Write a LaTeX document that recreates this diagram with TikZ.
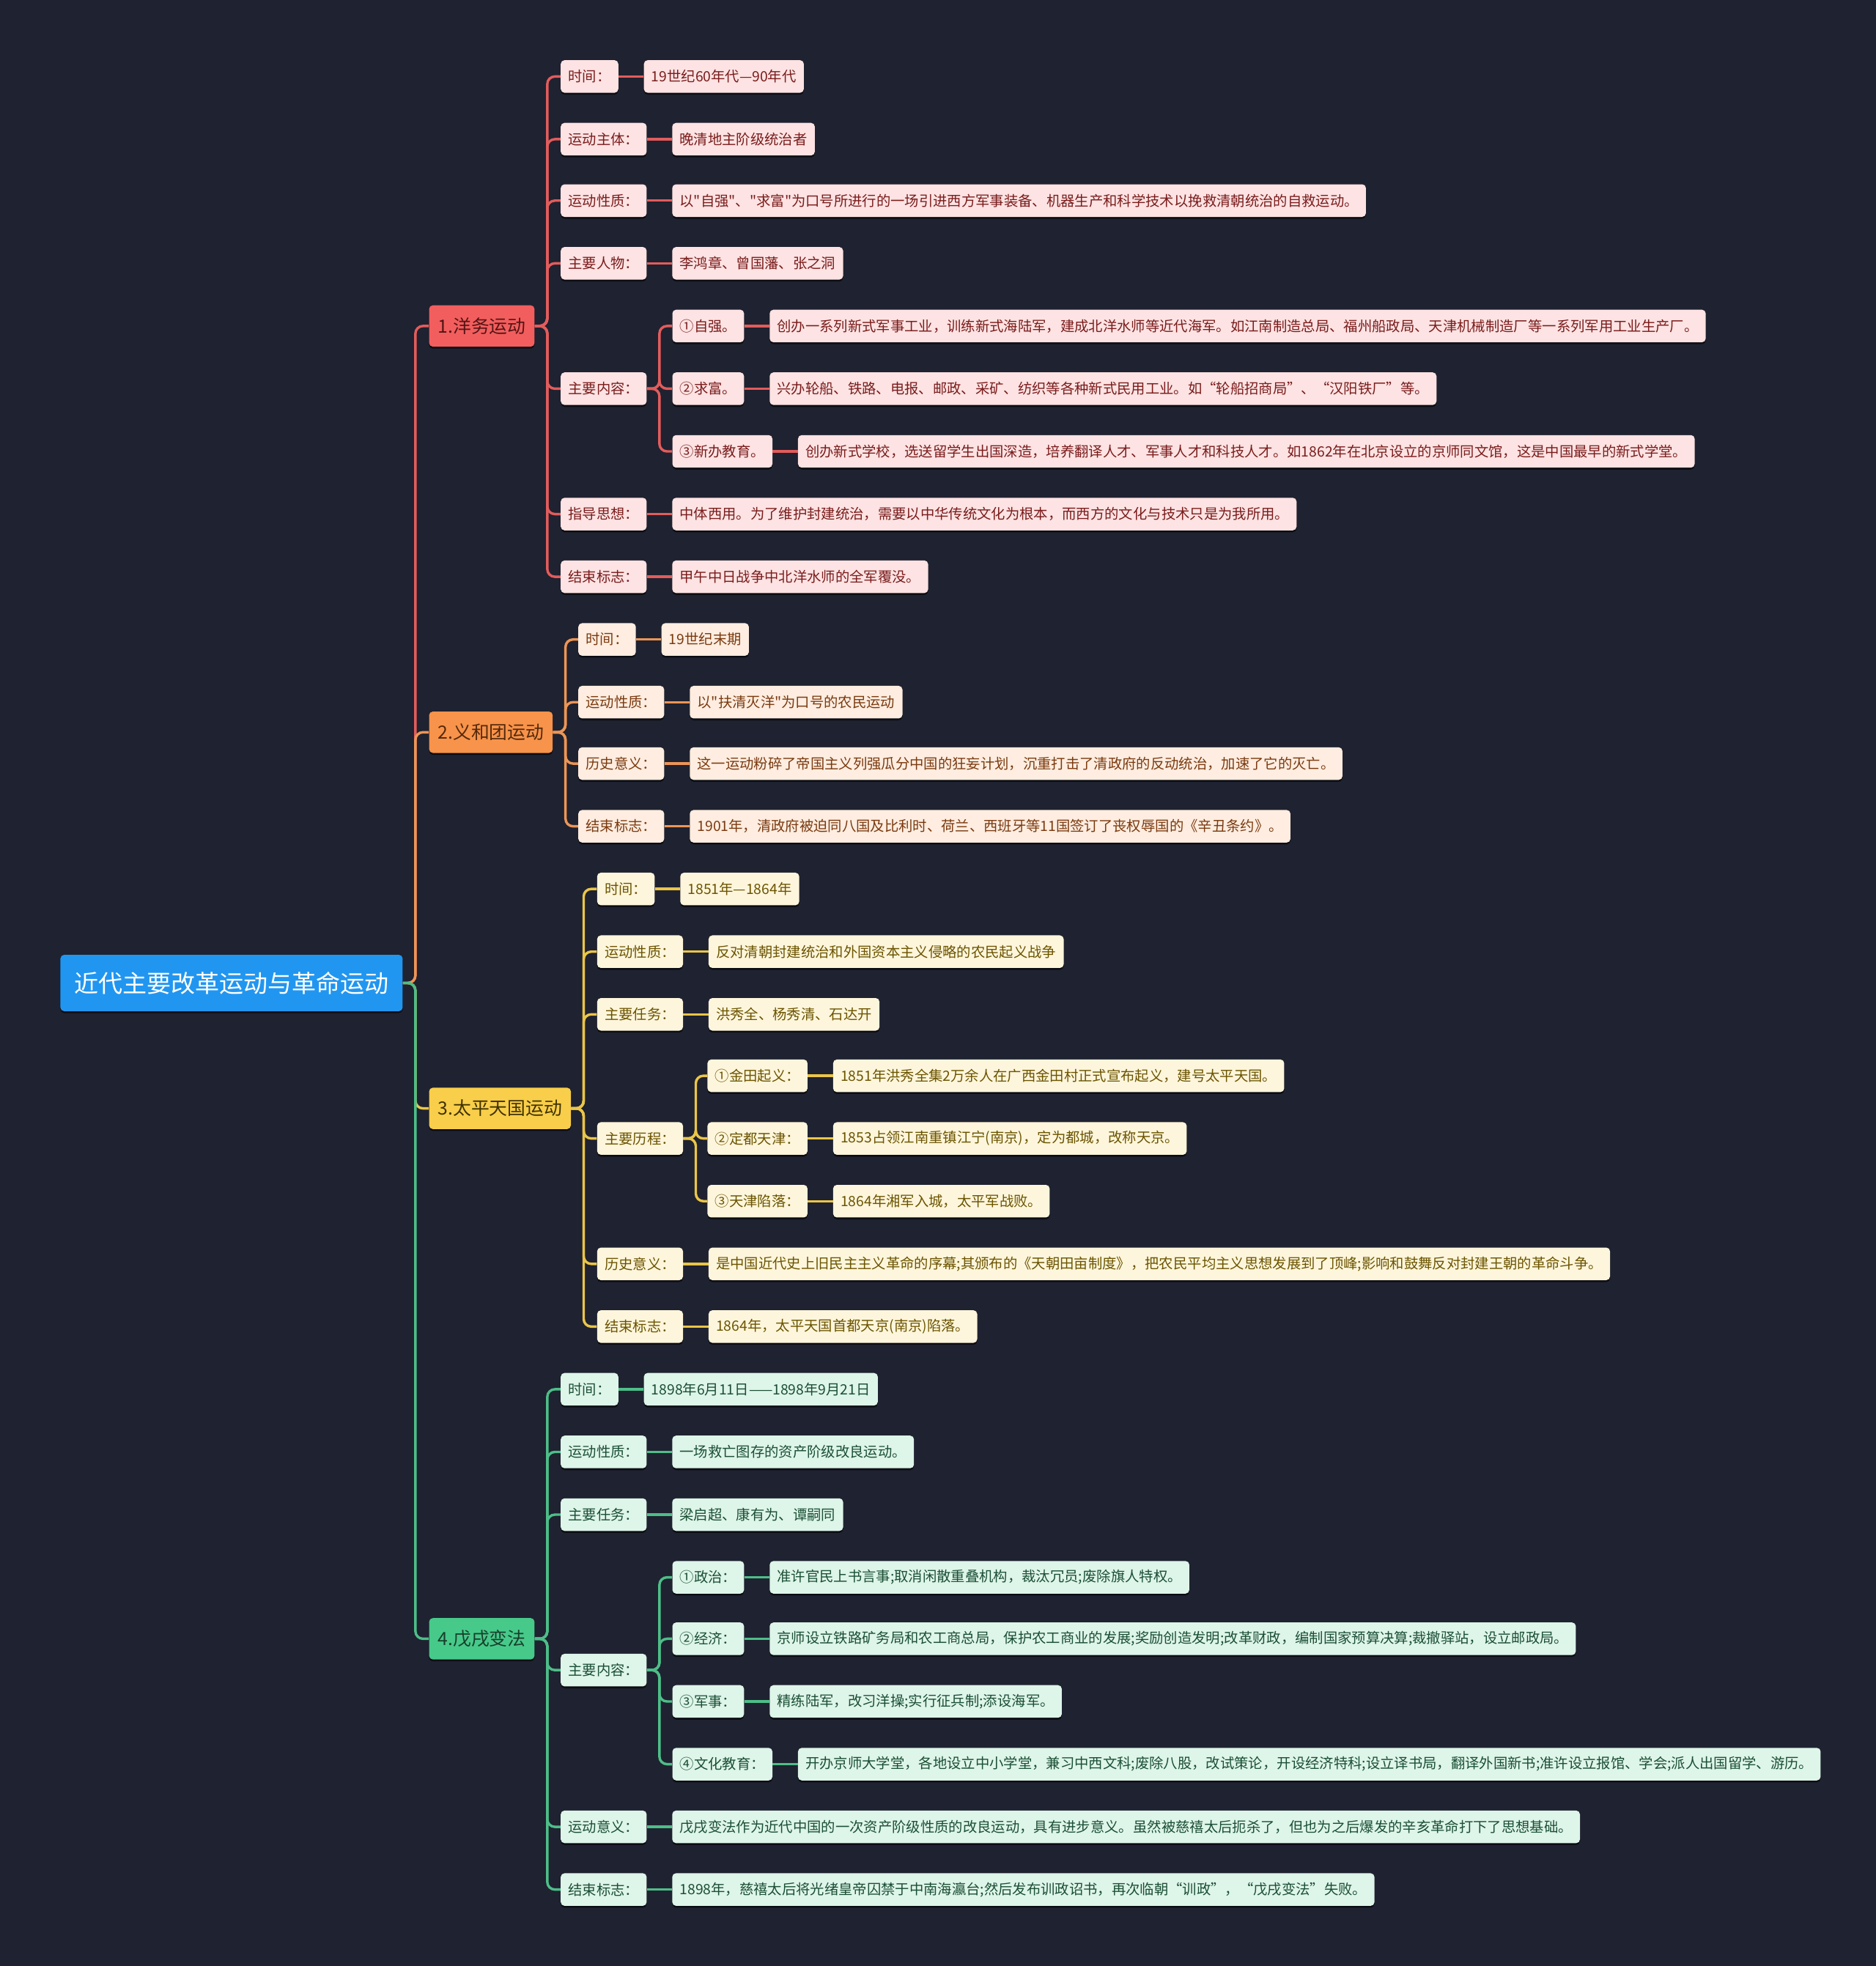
\documentclass[tikz,border=0pt]{standalone}
\usepackage{fontspec}
\setmainfont{Noto Sans CJK SC}[Ligatures=TeXOff]
\usepackage{tikz}
\usetikzlibrary{positioning,shadows}

\definecolor{bgcol}{HTML}{1F2230}
\definecolor{rootblue}{HTML}{2196F0}
\definecolor{redfill}{HTML}{F25E5E}
\definecolor{redpale}{HTML}{FDE3E3}
\definecolor{redtext}{HTML}{7A1C1C}
\definecolor{redline}{HTML}{E25C5C}
\definecolor{orafill}{HTML}{F7934A}
\definecolor{orapale}{HTML}{FEEDE0}
\definecolor{oratext}{HTML}{7A3A10}
\definecolor{oraline}{HTML}{EC9556}
\definecolor{yelfill}{HTML}{F8CE4A}
\definecolor{yelpale}{HTML}{FEF6DC}
\definecolor{yeltext}{HTML}{6B5400}
\definecolor{yelline}{HTML}{EAC548}
\definecolor{grnfill}{HTML}{47C98A}
\definecolor{grnpale}{HTML}{DEF5E9}
\definecolor{grntext}{HTML}{1B4F35}
\definecolor{grnline}{HTML}{4DBE88}

\tikzset{
  box/.style={rounded corners=3pt, anchor=west,
    drop shadow={shadow xshift=0pt, shadow yshift=-1.5pt, fill=black, opacity=0.6}},
  rootbox/.style={box, fill=rootblue, text=white, font=\fontsize{19.3}{22}\selectfont,
    minimum height=45pt, inner xsep=11pt},
  secbox/.style={box, font=\fontsize{14.5}{17}\selectfont, minimum height=33pt, inner xsep=7pt},
  leaf/.style={box, font=\fontsize{11.3}{13}\selectfont, minimum height=26pt, inner xsep=6pt},
  redleaf/.style={leaf, fill=redpale, text=redtext},
  oraleaf/.style={leaf, fill=orapale, text=oratext},
  yelleaf/.style={leaf, fill=yelpale, text=yeltext},
  grnleaf/.style={leaf, fill=grnpale, text=grntext},
  link/.style={line width=2pt, rounded corners=6pt},
}

\begin{document}
\begin{tikzpicture}[x=1pt, y=-1pt, node distance=20pt]
        \fill[bgcol] (0,0) rectangle (1496,1568);

        % root and the four movements
        \node[rootbox] (root) at (48,784) {近代主要改革运动与革命运动};
        \node[secbox, fill=redfill, text=redtext!70!black] (yangwu) at (342,260) {1.洋务运动};
        \node[secbox, fill=orafill, text=oratext!70!black] (yihe) at (342,584) {2.义和团运动};
        \node[secbox, fill=yelfill, text=yeltext!60!black] (taiping) at (342,884) {3.太平天国运动};
        \node[secbox, fill=grnfill, text=grntext!80!black] (wuxu) at (342,1307) {4.戊戌变法};

        \draw[link, redline] (root.east) -- ++(10,0) |- (yangwu.west);
        \draw[link, oraline] (root.east) -- ++(10,0) |- (yihe.west);
        \draw[link, yelline] (root.east) -- ++(10,0) |- (taiping.west);
        \draw[link, grnline] (root.east) -- ++(10,0) |- (wuxu.west);

        % 1. yangwu
        \node[redleaf] (yw1) at (447,61) {时间：};
        \node[redleaf] (yw2) at (447,111) {运动主体：};
        \node[redleaf] (yw3) at (447,160) {运动性质：};
        \node[redleaf] (yw4) at (447,210) {主要人物：};
        \node[redleaf] (yw5) at (447,310) {主要内容：};
        \node[redleaf] (yw6) at (447,410) {指导思想：};
        \node[redleaf] (yw7) at (447,460) {结束标志：};
        \node[redleaf, right=of yw1] (ywv1) {19世纪60年代—90年代};
        \node[redleaf, right=of yw2] (ywv2) {晚清地主阶级统治者};
        \node[redleaf, right=of yw3] (ywv3) {以"自强"、"求富"为口号所进行的一场引进西方军事装备、机器生产和科学技术以挽救清朝统治的自救运动。};
        \node[redleaf, right=of yw4] (ywv4) {李鸿章、曾国藩、张之洞};
        \node[redleaf, right=of yw6] (ywv6) {中体西用。为了维护封建统治，需要以中华传统文化为根本，而西方的文化与技术只是为我所用。};
        \node[redleaf, right=of yw7] (ywv7) {甲午中日战争中北洋水师的全军覆没。};
        \node[redleaf] (ywz1) at (536,260) {①自强。};
        \node[redleaf] (ywz2) at (536,310) {②求富。};
        \node[redleaf] (ywz3) at (536,360) {③新办教育。};
        \node[redleaf, right=of ywz1] (ywzv1) {创办一系列新式军事工业，训练新式海陆军，建成北洋水师等近代海军。如江南制造总局、福州船政局、天津机械制造厂等一系列军用工业生产厂。};
        \node[redleaf, right=of ywz2] (ywzv2) {兴办轮船、铁路、电报、邮政、采矿、纺织等各种新式民用工业。如“轮船招商局”、“汉阳铁厂”等。};
        \node[redleaf, right=of ywz3] (ywzv3) {创办新式学校，选送留学生出国深造，培养翻译人才、军事人才和科技人才。如1862年在北京设立的京师同文馆，这是中国最早的新式学堂。};

        \foreach \i in {1,...,7}
            \draw[link, redline] (yangwu.east) -- ++(10,0) |- (yw\i.west);
        \foreach \i in {1,2,3,4,6,7}
            \draw[link, redline] (yw\i.east) -- (ywv\i.west);
        \foreach \i in {1,2,3} {
            \draw[link, redline] (yw5.east) -- ++(10,0) |- (ywz\i.west);
            \draw[link, redline] (ywz\i.east) -- (ywzv\i.west);
        }

        % 2. yihe
        \node[oraleaf] (yh1) at (461,510) {时间：};
        \node[oraleaf] (yh2) at (461,560) {运动性质：};
        \node[oraleaf] (yh3) at (461,609) {历史意义：};
        \node[oraleaf] (yh4) at (461,659) {结束标志：};
        \node[oraleaf, right=of yh1] (yhv1) {19世纪末期};
        \node[oraleaf, right=of yh2] (yhv2) {以"扶清灭洋"为口号的农民运动};
        \node[oraleaf, right=of yh3] (yhv3) {这一运动粉碎了帝国主义列强瓜分中国的狂妄计划，沉重打击了清政府的反动统治，加速了它的灭亡。};
        \node[oraleaf, right=of yh4] (yhv4) {1901年，清政府被迫同八国及比利时、荷兰、西班牙等11国签订了丧权辱国的《辛丑条约》。};

        \foreach \i in {1,...,4} {
            \draw[link, oraline] (yihe.east) -- ++(10,0) |- (yh\i.west);
            \draw[link, oraline] (yh\i.east) -- (yhv\i.west);
        }

        % 3. taiping
        \node[yelleaf] (tp1) at (476,709) {时间：};
        \node[yelleaf] (tp2) at (476,759) {运动性质：};
        \node[yelleaf] (tp3) at (476,809) {主要任务：};
        \node[yelleaf] (tp4) at (476,908) {主要历程：};
        \node[yelleaf] (tp5) at (476,1008) {历史意义：};
        \node[yelleaf] (tp6) at (476,1058) {结束标志：};
        \node[yelleaf, right=of tp1] (tpv1) {1851年—1864年};
        \node[yelleaf, right=of tp2] (tpv2) {反对清朝封建统治和外国资本主义侵略的农民起义战争};
        \node[yelleaf, right=of tp3] (tpv3) {洪秀全、杨秀清、石达开};
        \node[yelleaf, right=of tp5] (tpv5) {是中国近代史上旧民主主义革命的序幕;其颁布的《天朝田亩制度》，把农民平均主义思想发展到了顶峰;影响和鼓舞反对封建王朝的革命斗争。};
        \node[yelleaf, right=of tp6] (tpv6) {1864年，太平天国首都天京(南京)陷落。};
        \node[yelleaf] (tpz1) at (564,858) {①金田起义：};
        \node[yelleaf] (tpz2) at (564,908) {②定都天津：};
        \node[yelleaf] (tpz3) at (564,958) {③天津陷落：};
        \node[yelleaf, right=of tpz1] (tpzv1) {1851年洪秀全集2万余人在广西金田村正式宣布起义，建号太平天国。};
        \node[yelleaf, right=of tpz2] (tpzv2) {1853占领江南重镇江宁(南京)，定为都城，改称天京。};
        \node[yelleaf, right=of tpz3] (tpzv3) {1864年湘军入城，太平军战败。};

        \foreach \i in {1,...,6}
            \draw[link, yelline] (taiping.east) -- ++(10,0) |- (tp\i.west);
        \foreach \i in {1,2,3,5,6}
            \draw[link, yelline] (tp\i.east) -- (tpv\i.west);
        \foreach \i in {1,2,3} {
            \draw[link, yelline] (tp4.east) -- ++(10,0) |- (tpz\i.west);
            \draw[link, yelline] (tpz\i.east) -- (tpzv\i.west);
        }

        % 4. wuxu
        \node[grnleaf] (wx1) at (447,1108) {时间：};
        \node[grnleaf] (wx2) at (447,1158) {运动性质：};
        \node[grnleaf] (wx3) at (447,1208) {主要任务：};
        \node[grnleaf] (wx4) at (447,1332) {主要内容：};
        \node[grnleaf] (wx5) at (447,1457) {运动意义：};
        \node[grnleaf] (wx6) at (447,1507) {结束标志：};
        \node[grnleaf, right=of wx1] (wxv1) {1898年6月11日——1898年9月21日};
        \node[grnleaf, right=of wx2] (wxv2) {一场救亡图存的资产阶级改良运动。};
        \node[grnleaf, right=of wx3] (wxv3) {梁启超、康有为、谭嗣同};
        \node[grnleaf, right=of wx5] (wxv5) {戊戌变法作为近代中国的一次资产阶级性质的改良运动，具有进步意义。虽然被慈禧太后扼杀了，但也为之后爆发的辛亥革命打下了思想基础。};
        \node[grnleaf, right=of wx6] (wxv6) {1898年，慈禧太后将光绪皇帝囚禁于中南海瀛台;然后发布训政诏书，再次临朝“训政”，“戊戌变法”失败。};
        \node[grnleaf] (wxz1) at (536,1258) {①政治：};
        \node[grnleaf] (wxz2) at (536,1307) {②经济：};
        \node[grnleaf] (wxz3) at (536,1357) {③军事：};
        \node[grnleaf] (wxz4) at (536,1407) {④文化教育：};
        \node[grnleaf, right=of wxz1] (wxzv1) {准许官民上书言事;取消闲散重叠机构，裁汰冗员;废除旗人特权。};
        \node[grnleaf, right=of wxz2] (wxzv2) {京师设立铁路矿务局和农工商总局，保护农工商业的发展;奖励创造发明;改革财政，编制国家预算决算;裁撤驿站，设立邮政局。};
        \node[grnleaf, right=of wxz3] (wxzv3) {精练陆军，改习洋操;实行征兵制;添设海军。};
        \node[grnleaf, right=of wxz4] (wxzv4) {开办京师大学堂，各地设立中小学堂，兼习中西文科;废除八股，改试策论，开设经济特科;设立译书局，翻译外国新书;准许设立报馆、学会;派人出国留学、游历。};

        \foreach \i in {1,...,6}
            \draw[link, grnline] (wuxu.east) -- ++(10,0) |- (wx\i.west);
        \foreach \i in {1,2,3,5,6}
            \draw[link, grnline] (wx\i.east) -- (wxv\i.west);
        \foreach \i in {1,...,4} {
            \draw[link, grnline] (wx4.east) -- ++(10,0) |- (wxz\i.west);
            \draw[link, grnline] (wxz\i.east) -- (wxzv\i.west);
        }
\end{tikzpicture}
\end{document}
